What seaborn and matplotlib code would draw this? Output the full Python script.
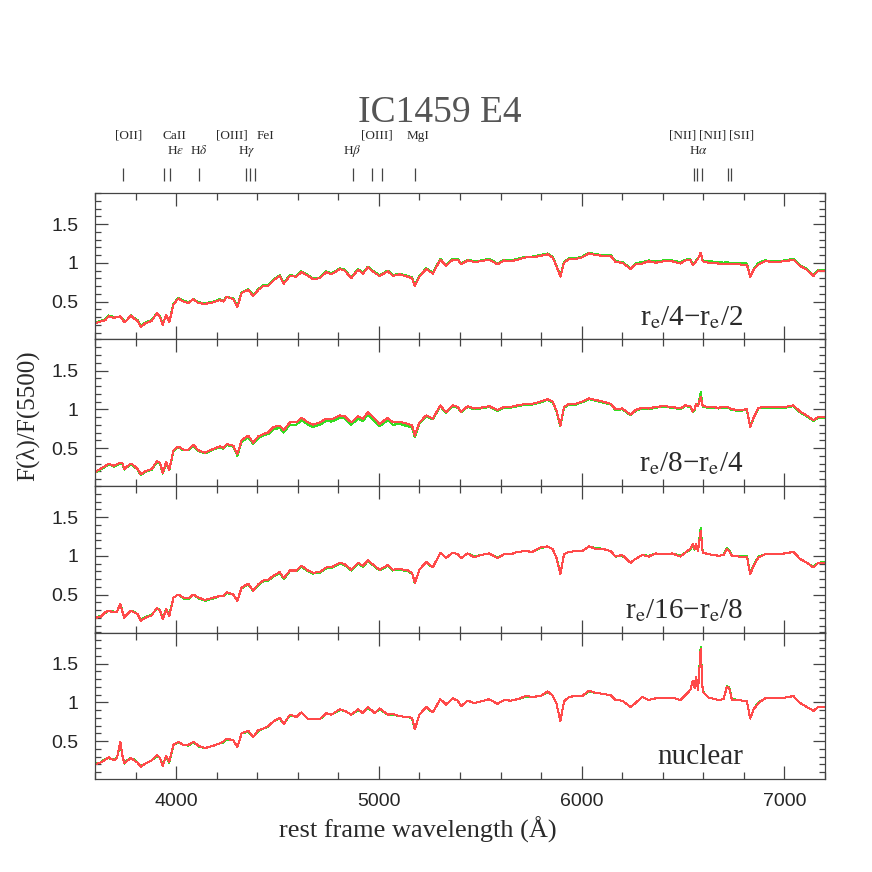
import numpy as np
import pandas as pd
import matplotlib
matplotlib.use('Agg')
import matplotlib.pyplot as plt
import seaborn as sns
from matplotlib.ticker import MultipleLocator, FuncFormatter

# rest-frame wavelength grid (Angstrom)
wave = [
    3600, 3626, 3651, 3667, 3692, 3708, 3725, 3736, 3745, 3757,
    3777, 3793, 3810, 3826, 3848, 3880, 3905, 3921, 3934, 3951,
    3966, 3987, 4011, 4036, 4061, 4085, 4110, 4143, 4184, 4216,
    4233, 4249, 4282, 4302, 4323, 4356, 4380, 4405, 4430, 4454,
    4479, 4511, 4531, 4561, 4593, 4618, 4651, 4675, 4708, 4741,
    4766, 4807, 4831, 4864, 4897, 4921, 4946, 4979, 5003, 5044,
    5069, 5102, 5143, 5164, 5177, 5200, 5233, 5266, 5303, 5331,
    5364, 5389, 5405, 5438, 5470, 5503, 5544, 5585, 5618, 5651,
    5684, 5725, 5757, 5798, 5831, 5856, 5875, 5895, 5913, 5938,
    5970, 6003, 6036, 6069, 6102, 6143, 6167, 6200, 6241, 6266,
    6298, 6331, 6364, 6405, 6446, 6487, 6511, 6536, 6548, 6557,
    6564, 6574, 6587, 6597, 6626, 6675, 6700, 6716, 6728, 6741,
    6774, 6815, 6831, 6848, 6872, 6905, 6954, 7003, 7044, 7077,
    7110, 7143, 7167, 7200]

# F(lambda)/F(5500), red and green spectra for each aperture
p1_red = [
    0.22, 0.24, 0.26, 0.31, 0.29, 0.30, 0.31, 0.27, 0.23, 0.26,
    0.32, 0.28, 0.25, 0.17, 0.22, 0.25, 0.35, 0.30, 0.20, 0.33,
    0.23, 0.46, 0.54, 0.50, 0.48, 0.53, 0.48, 0.47, 0.49, 0.52,
    0.50, 0.56, 0.53, 0.43, 0.61, 0.65, 0.57, 0.65, 0.70, 0.70,
    0.77, 0.83, 0.73, 0.83, 0.82, 0.88, 0.83, 0.79, 0.80, 0.88,
    0.85, 0.92, 0.90, 0.80, 0.91, 0.86, 0.94, 0.87, 0.83, 0.89,
    0.83, 0.85, 0.82, 0.80, 0.70, 0.82, 0.92, 0.86, 1.04, 0.96,
    1.04, 1.04, 0.98, 1.03, 1.01, 1.02, 1.04, 0.98, 1.03, 1.02,
    1.04, 1.07, 1.07, 1.09, 1.11, 1.07, 0.96, 0.82, 1.00, 1.05,
    1.05, 1.07, 1.12, 1.10, 1.09, 1.09, 1.01, 1.00, 0.92, 0.98,
    0.99, 1.02, 1.00, 1.02, 1.02, 0.99, 1.03, 1.04, 0.97, 0.99,
    1.02, 1.05, 1.13, 1.02, 1.00, 0.99, 0.98, 0.99, 0.98, 0.98,
    0.98, 0.97, 0.82, 0.91, 0.98, 1.02, 1.01, 1.02, 1.04, 0.96,
    0.91, 0.83, 0.90, 0.89]
p1_green = [
    0.23, 0.25, 0.27, 0.32, 0.30, 0.30, 0.31, 0.28, 0.24, 0.26,
    0.32, 0.29, 0.26, 0.18, 0.23, 0.26, 0.35, 0.31, 0.21, 0.33,
    0.24, 0.47, 0.55, 0.51, 0.49, 0.53, 0.49, 0.48, 0.50, 0.53,
    0.51, 0.56, 0.54, 0.44, 0.62, 0.66, 0.58, 0.66, 0.71, 0.71,
    0.78, 0.84, 0.74, 0.84, 0.83, 0.89, 0.84, 0.80, 0.81, 0.89,
    0.86, 0.93, 0.91, 0.81, 0.92, 0.87, 0.95, 0.88, 0.84, 0.90,
    0.84, 0.86, 0.83, 0.81, 0.71, 0.83, 0.93, 0.87, 1.05, 0.97,
    1.05, 1.05, 0.99, 1.04, 1.02, 1.03, 1.05, 0.99, 1.04, 1.03,
    1.05, 1.08, 1.08, 1.10, 1.12, 1.08, 0.97, 0.83, 1.01, 1.06,
    1.06, 1.08, 1.13, 1.11, 1.10, 1.10, 1.02, 1.01, 0.93, 0.99,
    1.01, 1.03, 1.02, 1.03, 1.03, 1.01, 1.04, 1.05, 0.98, 1.00,
    1.03, 1.06, 1.12, 1.03, 1.02, 1.01, 1.00, 1.01, 1.00, 1.00,
    1.00, 0.99, 0.83, 0.92, 1.00, 1.03, 1.02, 1.03, 1.05, 0.97,
    0.92, 0.84, 0.91, 0.90]

p2_red = [
    0.19, 0.23, 0.27, 0.30, 0.27, 0.29, 0.31, 0.30, 0.23, 0.26,
    0.30, 0.27, 0.23, 0.16, 0.20, 0.23, 0.33, 0.31, 0.18, 0.32,
    0.22, 0.47, 0.52, 0.48, 0.48, 0.54, 0.47, 0.44, 0.49, 0.52,
    0.50, 0.55, 0.53, 0.42, 0.60, 0.66, 0.57, 0.65, 0.68, 0.70,
    0.77, 0.79, 0.73, 0.83, 0.83, 0.89, 0.83, 0.80, 0.83, 0.88,
    0.87, 0.92, 0.91, 0.83, 0.91, 0.88, 0.96, 0.88, 0.81, 0.89,
    0.83, 0.84, 0.81, 0.79, 0.66, 0.83, 0.92, 0.88, 1.05, 0.96,
    1.05, 1.03, 0.97, 1.04, 1.01, 1.02, 1.04, 0.99, 1.03, 1.03,
    1.05, 1.07, 1.07, 1.10, 1.13, 1.10, 0.99, 0.79, 1.03, 1.07,
    1.07, 1.10, 1.14, 1.12, 1.10, 1.07, 1.00, 1.01, 0.93, 0.99,
    1.02, 1.01, 1.03, 1.04, 1.03, 1.01, 1.05, 1.04, 0.97, 1.00,
    1.07, 1.04, 1.16, 1.04, 1.03, 1.02, 1.03, 1.03, 1.02, 1.00,
    0.99, 1.00, 0.77, 0.89, 1.02, 1.03, 1.03, 1.03, 1.05, 0.97,
    0.92, 0.86, 0.90, 0.90]
p2_green = [
    0.18, 0.22, 0.26, 0.29, 0.26, 0.28, 0.30, 0.29, 0.22, 0.25,
    0.29, 0.26, 0.22, 0.15, 0.19, 0.22, 0.32, 0.30, 0.17, 0.31,
    0.21, 0.46, 0.51, 0.47, 0.47, 0.53, 0.46, 0.43, 0.48, 0.51,
    0.49, 0.54, 0.52, 0.40, 0.58, 0.64, 0.55, 0.63, 0.66, 0.68,
    0.74, 0.76, 0.70, 0.80, 0.80, 0.86, 0.80, 0.77, 0.80, 0.85,
    0.84, 0.89, 0.88, 0.80, 0.88, 0.85, 0.93, 0.85, 0.78, 0.86,
    0.80, 0.81, 0.78, 0.76, 0.64, 0.82, 0.91, 0.87, 1.04, 0.95,
    1.04, 1.02, 0.96, 1.03, 1.00, 1.01, 1.03, 0.98, 1.02, 1.02,
    1.04, 1.06, 1.06, 1.09, 1.12, 1.09, 0.98, 0.78, 1.02, 1.06,
    1.06, 1.09, 1.13, 1.11, 1.09, 1.06, 0.99, 1.00, 0.92, 0.98,
    1.01, 1.00, 1.02, 1.03, 1.02, 1.00, 1.04, 1.03, 0.96, 0.99,
    1.06, 1.05, 1.22, 1.03, 1.02, 1.01, 1.02, 1.02, 1.01, 0.99,
    0.98, 0.99, 0.78, 0.88, 1.01, 1.02, 1.02, 1.02, 1.04, 0.96,
    0.91, 0.85, 0.89, 0.89]

p3_red = [
    0.20, 0.21, 0.27, 0.29, 0.27, 0.28, 0.38, 0.27, 0.20, 0.24,
    0.29, 0.27, 0.25, 0.16, 0.20, 0.23, 0.33, 0.29, 0.18, 0.31,
    0.22, 0.46, 0.50, 0.46, 0.45, 0.50, 0.46, 0.43, 0.46, 0.48,
    0.48, 0.53, 0.50, 0.42, 0.59, 0.64, 0.55, 0.63, 0.68, 0.69,
    0.74, 0.79, 0.71, 0.81, 0.81, 0.87, 0.81, 0.78, 0.79, 0.85,
    0.85, 0.91, 0.89, 0.82, 0.91, 0.87, 0.94, 0.87, 0.82, 0.88,
    0.82, 0.83, 0.81, 0.78, 0.65, 0.82, 0.92, 0.85, 1.04, 0.97,
    1.04, 1.02, 0.97, 1.03, 0.98, 1.01, 1.03, 0.97, 1.02, 1.02,
    1.05, 1.06, 1.05, 1.11, 1.12, 1.09, 0.98, 0.76, 1.02, 1.05,
    1.06, 1.06, 1.12, 1.09, 1.09, 1.06, 0.99, 1.01, 0.91, 0.96,
    1.01, 0.99, 1.03, 1.02, 1.03, 0.99, 1.04, 1.09, 1.15, 1.09,
    1.15, 1.06, 1.32, 1.04, 1.02, 1.00, 1.01, 1.09, 1.06, 1.00,
    0.99, 0.99, 0.76, 0.87, 0.98, 1.02, 1.02, 1.03, 1.05, 0.96,
    0.91, 0.85, 0.91, 0.91]
p3_green = [
    0.21, 0.22, 0.26, 0.29, 0.28, 0.28, 0.37, 0.28, 0.21, 0.24,
    0.29, 0.28, 0.24, 0.17, 0.21, 0.24, 0.32, 0.30, 0.19, 0.31,
    0.23, 0.46, 0.50, 0.45, 0.44, 0.50, 0.45, 0.42, 0.45, 0.48,
    0.48, 0.52, 0.50, 0.42, 0.58, 0.63, 0.55, 0.62, 0.67, 0.68,
    0.73, 0.78, 0.70, 0.80, 0.80, 0.86, 0.80, 0.77, 0.78, 0.84,
    0.84, 0.90, 0.88, 0.81, 0.90, 0.86, 0.93, 0.86, 0.81, 0.87,
    0.81, 0.82, 0.80, 0.77, 0.65, 0.82, 0.91, 0.85, 1.04, 0.97,
    1.04, 1.02, 0.97, 1.03, 0.99, 1.01, 1.03, 0.98, 1.02, 1.02,
    1.05, 1.06, 1.05, 1.10, 1.12, 1.09, 0.98, 0.77, 1.02, 1.05,
    1.06, 1.06, 1.12, 1.10, 1.09, 1.06, 0.99, 1.00, 0.91, 0.96,
    1.01, 1.00, 1.03, 1.02, 1.03, 1.00, 1.04, 1.08, 1.13, 1.08,
    1.13, 1.07, 1.36, 1.04, 1.02, 1.00, 1.01, 1.10, 1.07, 1.00,
    1.00, 1.00, 0.77, 0.88, 0.99, 1.02, 1.02, 1.03, 1.05, 0.96,
    0.91, 0.86, 0.91, 0.92]

p4_red = [
    0.20, 0.22, 0.26, 0.29, 0.25, 0.28, 0.49, 0.30, 0.21, 0.24,
    0.28, 0.25, 0.22, 0.17, 0.21, 0.25, 0.32, 0.28, 0.18, 0.31,
    0.23, 0.45, 0.49, 0.45, 0.45, 0.49, 0.44, 0.41, 0.44, 0.47,
    0.49, 0.53, 0.51, 0.42, 0.60, 0.63, 0.55, 0.64, 0.66, 0.69,
    0.75, 0.80, 0.72, 0.84, 0.81, 0.87, 0.78, 0.79, 0.78, 0.86,
    0.84, 0.91, 0.89, 0.84, 0.91, 0.86, 0.94, 0.86, 0.92, 0.84,
    0.85, 0.82, 0.81, 0.80, 0.65, 0.84, 0.94, 0.87, 1.04, 0.97,
    1.05, 1.02, 0.95, 1.02, 0.99, 1.01, 1.04, 0.98, 1.03, 1.02,
    1.04, 1.08, 1.07, 1.08, 1.14, 1.09, 0.99, 0.76, 1.01, 1.07,
    1.08, 1.08, 1.15, 1.12, 1.11, 1.09, 1.03, 1.02, 0.94, 0.99,
    1.07, 1.03, 1.05, 1.06, 1.06, 1.03, 1.09, 1.16, 1.28, 1.18,
    1.33, 1.16, 1.69, 1.14, 1.06, 1.03, 1.04, 1.20, 1.18, 1.03,
    1.03, 1.01, 0.79, 0.91, 0.99, 1.05, 1.05, 1.06, 1.08, 0.99,
    0.94, 0.89, 0.94, 0.94]
p4_green = [
    0.21, 0.22, 0.27, 0.28, 0.26, 0.28, 0.47, 0.29, 0.21, 0.25,
    0.28, 0.26, 0.22, 0.18, 0.21, 0.25, 0.31, 0.28, 0.19, 0.30,
    0.22, 0.45, 0.48, 0.45, 0.44, 0.49, 0.43, 0.41, 0.44, 0.47,
    0.48, 0.52, 0.51, 0.42, 0.60, 0.62, 0.55, 0.63, 0.66, 0.68,
    0.75, 0.79, 0.72, 0.83, 0.81, 0.87, 0.78, 0.78, 0.78, 0.85,
    0.84, 0.90, 0.89, 0.84, 0.90, 0.86, 0.93, 0.86, 0.91, 0.84,
    0.84, 0.82, 0.81, 0.79, 0.65, 0.84, 0.93, 0.87, 1.04, 0.97,
    1.05, 1.02, 0.95, 1.02, 0.99, 1.01, 1.04, 0.98, 1.03, 1.02,
    1.04, 1.07, 1.07, 1.08, 1.13, 1.09, 0.99, 0.76, 1.01, 1.07,
    1.08, 1.08, 1.14, 1.12, 1.11, 1.09, 1.03, 1.02, 0.94, 0.99,
    1.07, 1.03, 1.05, 1.06, 1.06, 1.03, 1.09, 1.16, 1.27, 1.19,
    1.32, 1.17, 1.71, 1.14, 1.06, 1.03, 1.04, 1.21, 1.19, 1.04,
    1.03, 1.01, 0.79, 0.91, 1.00, 1.05, 1.05, 1.06, 1.08, 0.99,
    0.94, 0.89, 0.94, 0.94]

panel_labels = ['r$_{\\rm e}$/4\u2212r$_{\\rm e}$/2', 'r$_{\\rm e}$/8\u2212r$_{\\rm e}$/4',
                'r$_{\\rm e}$/16\u2212r$_{\\rm e}$/8', 'nuclear']
red_spectra = [p1_red, p2_red, p3_red, p4_red]
green_spectra = [p1_green, p2_green, p3_green, p4_green]

# spectral line identifications
line_waves = [3738, 3941, 3970, 4114, 4344, 4364, 4387, 4872, 4967, 5016,
              5180, 6554, 6571, 6592, 6722, 6738]
top_names = ['[OII]', 'CaII', '[OIII]', 'FeI', '[OIII]', 'MgI', '[NII]', '[NII]', '[SII]']
top_pos = [3764, 3993, 4275, 4443, 4990, 5195, 6499, 6644, 6787]
low_names = ['H$\\epsilon$', 'H$\\delta$', 'H$\\gamma$', 'H$\\beta$', 'H$\\alpha$']
low_pos = [3995, 4113, 4348, 4866, 6575]

sns.set_style('ticks')
plt.rcParams['font.family'] = ['Liberation Serif', 'DejaVu Serif']
plt.rcParams['mathtext.fontset'] = 'stix'

red_col = '#ff4a4a'
green_col = '#33dd22'
frame_col = '#444444'
text_col = '#2a2a2a'

fig = plt.figure(figsize=(8.72, 8.72), dpi=100)
W = 872.0
left = 95 / W
width = 730 / W
bottom = (W - 779) / W
ph = 146.5 / W

for i in range(4):
    ax = fig.add_axes([left, bottom + (3 - i) * ph, width, ph])
    df = pd.DataFrame({'wave': wave, 'red': red_spectra[i], 'green': green_spectra[i]})
    sns.lineplot(data=df, x='wave', y='green', ax=ax, color=green_col, linewidth=0.75,
                 estimator=None, sort=False, antialiased=False)
    sns.lineplot(data=df, x='wave', y='red', ax=ax, color=red_col, linewidth=0.75,
                 estimator=None, sort=False, antialiased=False)
    ax.set_xlim(3600, 7200)
    ax.set_ylim(0.01, 1.9)
    ax.xaxis.set_major_locator(MultipleLocator(1000))
    ax.xaxis.set_minor_locator(MultipleLocator(200))
    ax.yaxis.set_major_locator(MultipleLocator(0.5))
    ax.yaxis.set_minor_locator(MultipleLocator(0.1))
    ax.yaxis.set_major_formatter(FuncFormatter(lambda v, p: '%g' % v))
    ax.tick_params(which='both', direction='in', top=True, right=True, color=frame_col,
                   width=0.9, labelsize=14, labelfontfamily='Liberation Sans')
    ax.tick_params(axis='x', which='major', length=9.5, pad=10)
    ax.tick_params(axis='x', which='minor', length=5)
    ax.tick_params(axis='y', which='major', length=9, pad=12)
    ax.tick_params(axis='y', which='minor', length=4.5)
    for s in ax.spines.values():
        s.set_color(frame_col)
        s.set_linewidth(0.9)
    ax.set_xlabel('')
    ax.set_ylabel('')
    if i < 3:
        ax.tick_params(axis='x', labelbottom=False)
    ax.text(0.888, 0.10, panel_labels[i], transform=ax.transAxes, ha='right',
            va='baseline', fontsize=21, color=text_col)

# line markers above the top panel
axm = fig.add_axes([left, 1 - 190 / W, width, 65 / W])
axm.set_xlim(3600, 7200)
axm.set_ylim(0, 1)
axm.axis('off')
axm.vlines(line_waves, 0.14, 0.34, color=frame_col, linewidth=0.9)
for name, x in zip(top_names, top_pos):
    axm.text(x, 0.79, name, ha='center', va='baseline', fontsize=9.5, color=text_col)
for name, x in zip(low_names, low_pos):
    axm.text(x, 0.555, name, ha='center', va='baseline', fontsize=9.5, color=text_col)

fig.text(440 / W, 1 - 122 / W, 'IC1459 E4', ha='center', va='baseline', fontsize=27,
         color='#555555')
fig.text(418 / W, 1 - 838 / W, 'rest frame wavelength (\u00c5)', ha='center',
         va='baseline', fontsize=19, color=text_col)
fig.text(28 / W, 1 - 416 / W, 'F(\u03bb)/F(5500)', ha='center', va='center',
         rotation=90, fontsize=18, color=text_col)

fig.savefig('out.png', dpi=100)
